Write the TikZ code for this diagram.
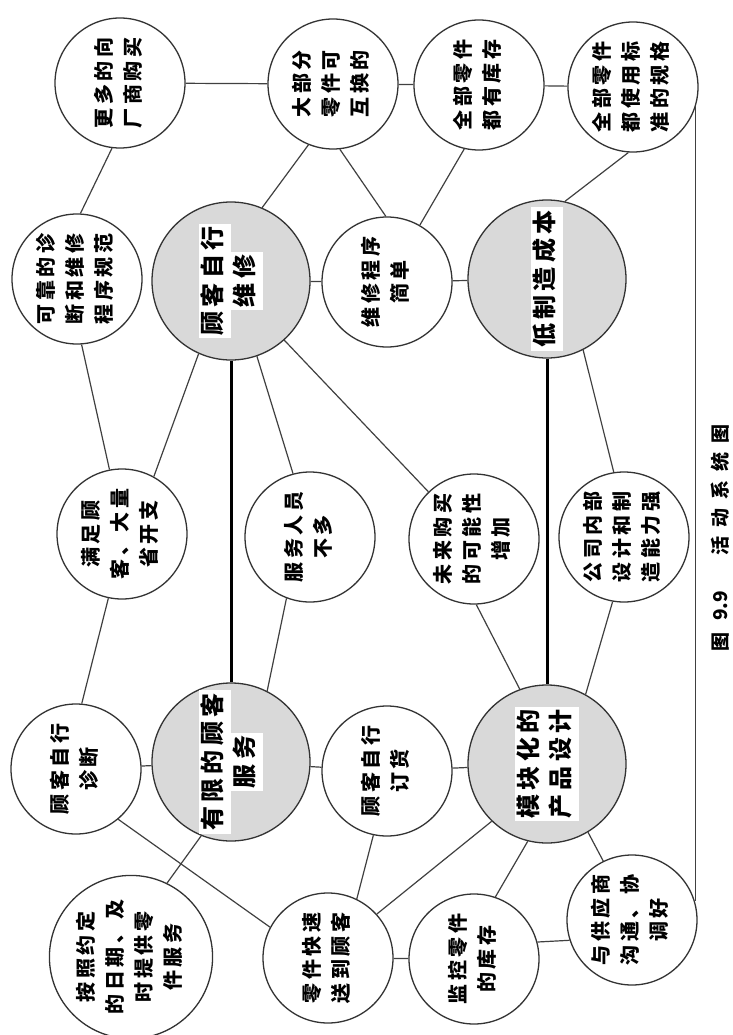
\documentclass[tikz,border=0pt]{standalone}
\usepackage{fontspec}
\newfontfamily\cjk[LetterSpace=18]{Noto Sans CJK SC}
\newfontfamily\cjkcap{Noto Sans CJK SC}
\newcommand{\wl}[1]{{\setlength{\fboxsep}{0pt}\colorbox{white}{\strut\hspace{3pt}#1\hspace{3pt}}}}
\newcommand{\rt}[1]{\rotatebox{90}{\begin{tabular}{@{}c@{}}#1\end{tabular}}}
\begin{document}
\begin{tikzpicture}[x=1pt,y=-1pt,
  wc/.style={circle,draw=black!80,line width=1.3pt,minimum size=130pt,inner sep=0pt,font=\cjk\bfseries\fontsize{20}{29}\selectfont},
  gc/.style={wc,fill=black!15,minimum size=158pt,font=\cjk\bfseries\fontsize{24}{32}\selectfont},
  ln/.style={draw=black!75,line width=1.2pt},
  tk/.style={draw=black,line width=3pt}]
\useasboundingbox[fill=white] (0,0) rectangle (732,1035);
% row 1
\node[wc] (c1) at (120,83) {\rt{更多的向\\厂商购买}};
\node[wc] (c2) at (333,84) {\rt{大部分\\零件可\\互换的}};
\node[wc] (c3) at (479,85) {\rt{全部零件\\都有库存}};
\node[wc] (c4) at (633,87) {\rt{全部零件\\都使用标\\准的规格}};
% row 2
\node[wc] (c5) at (77,279) {\rt{可靠的诊\\断和维修\\程序规范}};
\node[gc] (c6) at (231,281) {\rt{\wl{顾客自行}\\\wl{维修}}};
\node[wc] (c7) at (387,282) {\rt{维修程序\\简单}};
\node[gc] (c8) at (547,279) {\rt{\wl{低制造成本}}};
% row 3
\node[wc] (c9) at (122,534) {\rt{满足顾\\客、大量\\省开支}};
\node[wc] (c10) at (310,537) {\rt{服务人员\\不多}};
\node[wc] (c11) at (474,539) {\rt{未来购买\\的可能性\\增加}};
\node[wc] (c12) at (624,537) {\rt{公司内部\\设计和制\\造能力强}};
% row 4
\node[wc] (c13) at (76,769) {\rt{顾客自行\\诊断}};
\node[gc] (c14) at (231,762) {\rt{\wl{有限的顾客}\\\wl{服务}}};
\node[wc] (c15) at (387,771) {\rt{顾客自行\\订货}};
\node[gc] (c16) at (547,764) {\rt{\wl{模块化的}\\\wl{产品设计}}};
% row 5
\node[wc] (c17) at (131,957) {\rt{按照约定\\的日期、及\\时提供零\\件服务}};
\node[wc] (c18) at (328,958) {\rt{零件快速\\送到顾客}};
\node[wc] (c19) at (474,959) {\rt{监控零件\\的库存}};
\node[wc] (c20) at (632,920) {\rt{与供应商\\沟通、协\\调好}};
% caption
\node[rotate=90,inner sep=0pt,font=\cjkcap\bfseries\fontsize{19}{19}\selectfont] (cap) at (720,538) {图\hspace{12pt}9.9\hspace{36pt}活\hspace{9pt}动\hspace{9pt}系\hspace{9pt}统\hspace{9pt}图};
% connectors
\draw[ln] (c1) -- (c2);
\draw[ln] (c2) -- (c3);
\draw[ln] (c3) -- (c4);
\draw[ln] (c1.-97) -- (c5.87);
\draw[ln] (c2.-112) -- (c6.67);
\draw[ln] (c2.-84) -- (c7.91);
\draw[ln] (c3.-103) -- (c7.60);
\draw[ln] (c4.-94) -- (c8.77);
\draw[ln] (c6) -- (c7);
\draw[ln] (c7) -- (c8);
\draw[ln] (c5.-86) -- (c9.101);
\draw[ln] (c6.-114) -- (c9.61);
\draw[tk] (c6) -- (c14);
\draw[ln] (c6.-71) -- (c10.105);
\draw[ln] (c6.-48) -- (c11.134);
\draw[tk] (c8) -- (c16);
\draw[ln] (c8.-63) -- (c12.99);
\draw[ln] (c9.-102) -- (c13.85);
\draw[ln] (c10.-111) -- (c14.63);
\draw[ln] (c11.-88) -- (c16.110);
\draw[ln] (c12.-100) -- (c16.61);
\draw[ln] (c13) -- (c14);
\draw[ln] (c14) -- (c15);
\draw[ln] (c15) -- (c16);
\draw[ln] (c13.-50) -- (c18.152);
\draw[ln] (c14.-112) -- (c17.64);
\draw[ln] (c15.-102) -- (c18.64);
\draw[ln] (c16.-134) -- (c18.42);
\draw[ln] (c16.-104) -- (c19.71);
\draw[ln] (c16.-59) -- (c20.116);
\draw[ln] (c18) -- (c19);
\draw[ln] (c19.15) -- (c20.198);
\draw[ln] (c4.-17) -- (c4.-17 |- c20.17);
\end{tikzpicture}
\end{document}
